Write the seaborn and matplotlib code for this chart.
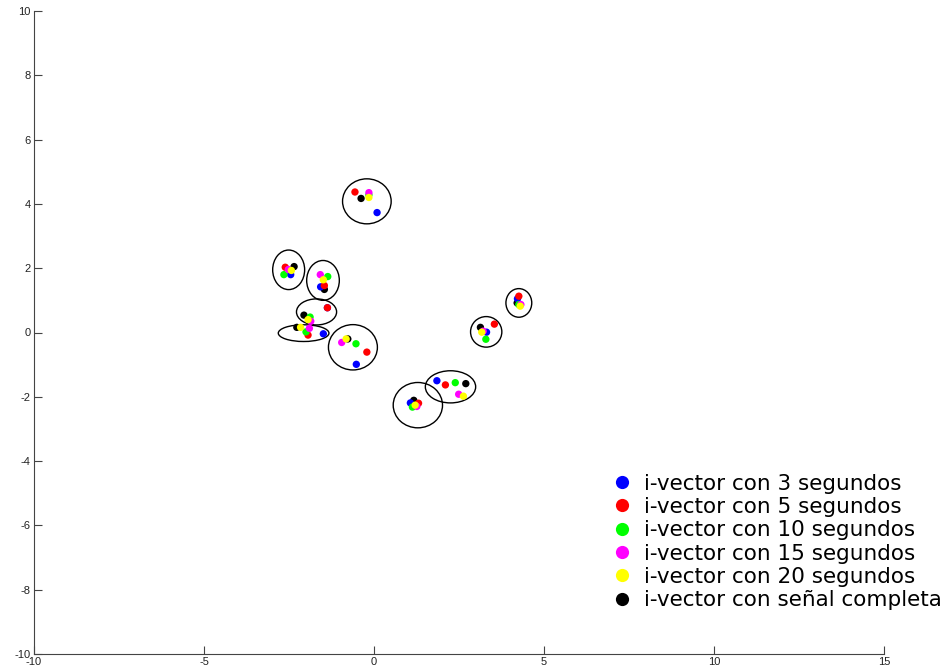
import matplotlib
matplotlib.use('Agg')
import matplotlib.pyplot as plt
from matplotlib.patches import Ellipse
import seaborn as sns
import pandas as pd

# i-vector positions per duration (one point per speaker cluster)
labels = ['i-vector con 3 segundos', 'i-vector con 5 segundos', 'i-vector con 10 segundos',
          'i-vector con 15 segundos', 'i-vector con 20 segundos', 'i-vector con señal completa']
colors = ['#0000ff', '#ff0000', '#00ff00', '#ff00ff', '#ffff00', '#000000']

x_3s = [0.09, -2.45, -1.57, -1.37, -1.49, -0.52, 1.07, 1.85, 3.31, 4.22]
y_3s = [3.73, 1.80, 1.42, 0.77, -0.04, -0.99, -2.19, -1.50, 0.01, 1.05]
x_5s = [-0.56, -2.61, -1.46, -1.37, -1.94, -0.21, 1.31, 2.10, 3.54, 4.26]
y_5s = [4.37, 2.03, 1.46, 0.77, -0.08, -0.61, -2.20, -1.63, 0.26, 1.13]
x_10s = [-0.15, -2.65, -1.36, -1.88, -2.00, -0.53, 1.13, 2.39, 3.29, 4.26]
y_10s = [4.28, 1.80, 1.74, 0.48, 0.02, -0.35, -2.32, -1.56, -0.21, 0.87]
x_15s = [-0.15, -2.52, -1.58, -1.86, -1.90, -0.95, 1.26, 2.49, 3.21, 4.32]
y_15s = [4.35, 1.96, 1.80, 0.35, 0.13, -0.31, -2.30, -1.92, 0.04, 0.87]
x_20s = [-0.15, -2.43, -1.49, -1.94, -2.16, -0.82, 1.21, 2.63, 3.17, 4.30]
y_20s = [4.20, 1.93, 1.64, 0.40, 0.16, -0.20, -2.26, -1.98, 0.01, 0.82]
x_full = [-0.38, -2.35, -1.46, -2.06, -2.27, -0.77, 1.17, 2.70, 3.13, 4.21]
y_full = [4.17, 2.05, 1.34, 0.54, 0.16, -0.20, -2.11, -1.59, 0.16, 0.92]

# cluster ellipses
ell_x = [-0.21, -2.51, -1.50, -1.69, -2.07, -0.62, 1.29, 2.25, 3.30, 4.26]
ell_y = [4.08, 1.95, 1.62, 0.64, -0.02, -0.46, -2.26, -1.69, 0.02, 0.92]
ell_w = [1.43, 0.94, 0.96, 1.18, 1.49, 1.44, 1.45, 1.48, 0.92, 0.76]
ell_h = [1.40, 1.23, 1.24, 0.81, 0.52, 1.41, 1.41, 1.00, 0.95, 0.89]

xs = [x_3s, x_5s, x_10s, x_15s, x_20s, x_full]
ys = [y_3s, y_5s, y_10s, y_15s, y_20s, y_full]

sns.set_style('ticks')
plt.rcParams['font.family'] = ['DejaVu Sans']
plt.rcParams['axes.unicode_minus'] = False

# black drawn first so the coloured dots sit on top
draw_order = [5, 0, 1, 2, 3, 4]
rows = []
for i in draw_order:
    for x, y in zip(xs[i], ys[i]):
        rows.append({'x': x, 'y': y, 'serie': labels[i]})
df = pd.DataFrame(rows)

fig = plt.figure(figsize=(9.46, 6.70), dpi=100)
ax = fig.add_axes([34 / 946, 16 / 670, 850 / 946, 643 / 670])

sns.scatterplot(data=df, x='x', y='y', hue='serie', hue_order=labels,
                palette=colors, s=28, edgecolor='none', linewidth=0,
                legend=False, ax=ax, zorder=3)

for cx, cy, w, h in zip(ell_x, ell_y, ell_w, ell_h):
    ax.add_patch(Ellipse((cx, cy), w, h, fill=False, edgecolor='black', lw=1.0, zorder=2))

ax.set_xlim(-10, 15)
ax.set_ylim(-10, 10)
ax.set_xticks([-10, -5, 0, 5, 10, 15])
ax.set_yticks([-10, -8, -6, -4, -2, 0, 2, 4, 6, 8, 10])
ax.set_xlabel('')
ax.set_ylabel('')
ax.spines[['top', 'right']].set_visible(False)
for s in ['left', 'bottom']:
    ax.spines[s].set_color('#444444')
    ax.spines[s].set_linewidth(0.8)
ax.tick_params(direction='in', length=6, width=0.8, color='#444444')
ax.tick_params(axis='y', pad=2.5)
ax.tick_params(axis='x', pad=2)
for lab in ax.get_xticklabels() + ax.get_yticklabels():
    lab.set_family(['Liberation Sans Narrow', 'Liberation Sans'])
    lab.set_fontsize(8)
    lab.set_color('#222222')

handles = [plt.Line2D([], [], marker='o', linestyle='none', markersize=9.5,
                      markerfacecolor=c, markeredgecolor='none') for c in colors]
leg = ax.legend(handles, labels, loc='lower left', bbox_to_anchor=(0.676, 0.068),
                frameon=False, fontsize=15.5, labelspacing=0.155, handletextpad=0.45,
                handlelength=1.2, borderpad=0, borderaxespad=0)
for t in leg.get_texts():
    t.set_color('black')

fig.savefig('out.png', dpi=100, facecolor='white')
